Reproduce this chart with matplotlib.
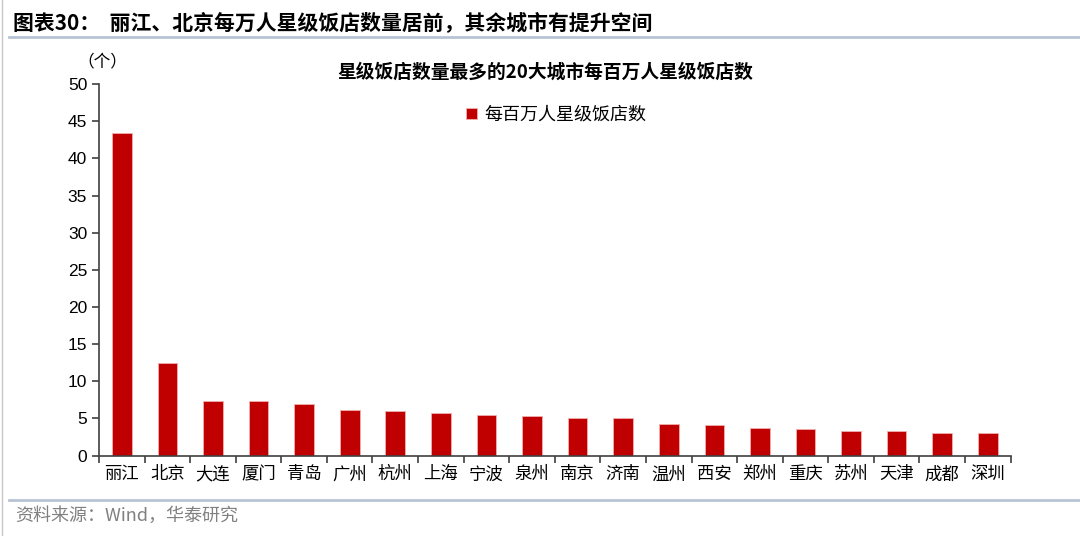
import numpy as np
import matplotlib.pyplot as plt
from matplotlib.lines import Line2D

plt.rcParams['font.family'] = ['Noto Sans CJK SC', 'DejaVu Sans']

# 数据
cities = ['丽江', '北京', '大连', '厦门', '青岛', '广州', '杭州', '上海', '宁波', '泉州',
          '南京', '济南', '温州', '西安', '郑州', '重庆', '苏州', '天津', '成都', '深圳']
hotels_per_million = [43.4, 12.5, 7.3, 7.3, 7.0, 6.1, 6.0, 5.7, 5.4, 5.3,
                      5.1, 5.05, 4.2, 4.15, 3.7, 3.55, 3.35, 3.25, 3.1, 3.0]
y_ticks = [0, 5, 10, 15, 20, 25, 30, 35, 40, 45, 50]

fig = plt.figure(figsize=(10.8, 5.36), dpi=100)
ax = fig.add_axes([0.0917, 0.15, 0.844, 0.693])

x = np.arange(len(cities))
ax.bar(x, hotels_per_million, width=0.43, color='#C00000', edgecolor='#f0b0b0',
       linewidth=0.6, label='每百万人星级饭店数')

ax.set_xlim(-0.5, len(cities) - 0.5)
ax.set_ylim(0, 50)
ax.set_yticks(y_ticks)
ax.set_yticklabels([str(t) for t in y_ticks], fontfamily='Liberation Sans', fontsize=12.5)

# x 轴：刻度在类别边界，标签居中
ax.set_xticks(np.arange(-0.5, len(cities), 1.0))
ax.set_xticklabels([])
ax.set_xticks(x, minor=True)
ax.set_xticklabels(cities, minor=True, fontsize=12.5)
ax.tick_params(axis='x', which='minor', length=0, pad=7)
ax.tick_params(axis='x', which='major', length=5, width=1.2, color='#404040')
ax.tick_params(axis='y', length=5, width=1.2, color='#404040')

for s in ['top', 'right']:
    ax.spines[s].set_visible(False)
for s in ['left', 'bottom']:
    ax.spines[s].set_color('#404040')
    ax.spines[s].set_linewidth(1.2)

ax.legend(loc='upper left', bbox_to_anchor=(0.385, 0.985), frameon=False, fontsize=13,
          handlelength=0.6, handleheight=0.6, handletextpad=0.4)

# 标题与注释
fig.text(0.012, 0.957, '图表30：  丽江、北京每万人星级饭店数量居前，其余城市有提升空间',
         fontsize=15, fontweight='bold', va='center', ha='left')
fig.add_artist(Line2D([0.008, 1.0], [0.931, 0.931], color='#b8c4d4', linewidth=2))
fig.text(0.505, 0.866, '星级饭店数量最多的20大城市每百万人星级饭店数',
         fontsize=13.5, fontweight='bold', va='center', ha='center')
fig.text(0.072, 0.885, '（个）', fontsize=12, va='center', ha='left')
fig.add_artist(Line2D([0.008, 1.0], [0.067, 0.067], color='#b8c4d4', linewidth=2))
fig.text(0.014, 0.037, '资料来源：Wind，华泰研究', fontsize=13, color='#808080',
         va='center', ha='left')
fig.add_artist(Line2D([0.002, 0.002], [0.0, 1.0], color='#c8c8c8', linewidth=1))

fig.savefig('out.png', dpi=100)
